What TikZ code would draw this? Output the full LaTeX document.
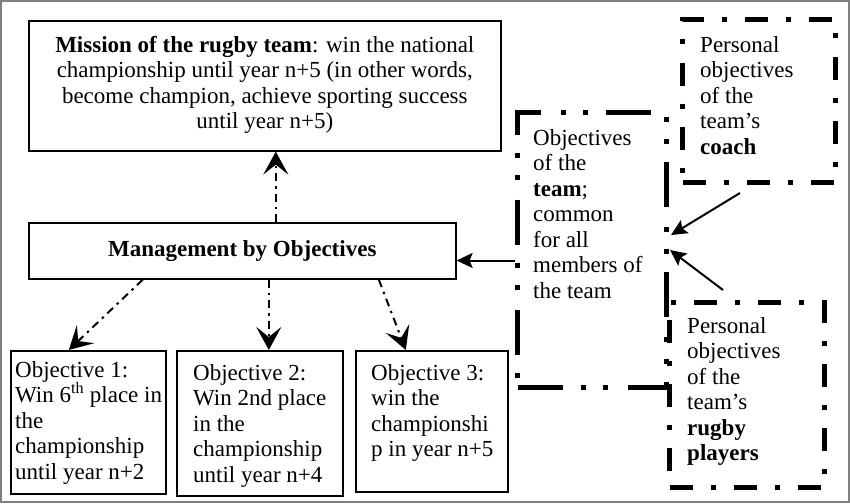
\documentclass[tikz,border=0pt]{standalone}
\usepackage{fontspec}
\setmainfont{Liberation Serif}
\usetikzlibrary{arrows.meta}
\begin{document}
\begin{tikzpicture}[x=1pt,y=-1pt,
  thinbox/.style={draw, line width=1.6pt, inner sep=0pt, anchor=north west},
  thickA/.style={draw, line width=5pt, inner sep=0pt, anchor=north west, dash pattern=on 23pt off 18pt on 5pt off 18pt},
  thickB/.style={draw, line width=5pt, inner sep=0pt, anchor=north west, dash pattern=on 45pt off 18pt on 5pt off 17pt on 5pt off 20pt},
  txt/.style={inner sep=0pt, align=left, font=\fontsize{23}{25.5}\selectfont, anchor=north west},
  dasharrow/.style={line width=2pt, dash pattern=on 8pt off 5pt on 2.5pt off 5pt, -{Stealth[length=23pt,width=25pt,inset=10pt]}},
  solidarrow/.style={line width=2pt, -{Stealth[length=16pt,width=15pt,inset=3pt]}}]
\useasboundingbox (0,0) rectangle (850,503);
\draw[gray, line width=2pt] (1,1) rectangle (849,502);

\node[thinbox, minimum width=472pt, minimum height=130pt] (mis) at (28,20) {};
\node[txt, align=center, anchor=center] (mist) at ([yshift=1pt]mis.center) {\textbf{Mission of the rugby team}: win the national\\championship until year n+5 (in other words,\\become champion, achieve sporting success\\until year n+5)};

\node[thinbox, minimum width=427pt, minimum height=56pt] (mbo) at (28,222) {};
\node[txt, anchor=center] (mbot) at (mbo.center) {\textbf{Management by Objectives}};

\node[thinbox, minimum width=155pt, minimum height=143pt] (o1) at (10,350) {};
\node[txt] (o1t) at (15,361) {Objective 1:\\Win 6\textsuperscript{th} place in\\the\\championship\\until year n+2};

\node[thinbox, minimum width=166pt, minimum height=145pt] (o2) at (176,350) {};
\node[txt] (o2t) at (193,364) {Objective 2:\\Win 2nd place\\in the\\championship\\until year n+4};

\node[thinbox, minimum width=152pt, minimum height=141pt] (o3) at (355,350) {};
\node[txt] (o3t) at (371,364) {Objective 3:\\win the\\championshi\\p in year n+5};

\node[thickB, minimum width=149pt, minimum height=275pt] (team) at (515,110) {};
\node[txt] (teamt) at (533,129) {Objectives\\of the\\\textbf{team};\\common\\for all\\members of\\the team};

\node[thickA, minimum width=153pt, minimum height=163pt] (coach) at (680,17) {};
\node[txt] (coacht) at (700,36) {Personal\\objectives\\of the\\team’s\\\textbf{coach}};

\node[thickA, minimum width=155pt, minimum height=185pt] (play) at (667,300) {};
\node[txt] (playt) at (687,317) {Personal\\objectives\\of the\\team’s\\\textbf{rugby}\\\textbf{players}};

\coordinate (cs) at (740,193);
\coordinate (ps) at (723,290);

\draw[dasharrow] ([xshift=33.5pt]mbo.north) -- ([xshift=33.5pt]mbo.north |- mis.south);
\draw[dasharrow] ([xshift=-99.5pt]mbo.south) -- ([xshift=-19.5pt]o1.north);
\draw[dasharrow] ([xshift=26.5pt]mbo.south) -- ([xshift=9pt]o2.north);
\draw[dasharrow] ([xshift=136.5pt]mbo.south) -- ([xshift=-26pt]o3.north);

\draw[solidarrow] ([yshift=-10.5pt]team.west) -- ([yshift=-10.5pt]team.west -| mbo.east);
\draw[solidarrow] (cs) -- ([yshift=15pt,xshift=2pt]team.east);
\draw[solidarrow] (ps) -- ([xshift=1pt]team.east);
\end{tikzpicture}
\end{document}
